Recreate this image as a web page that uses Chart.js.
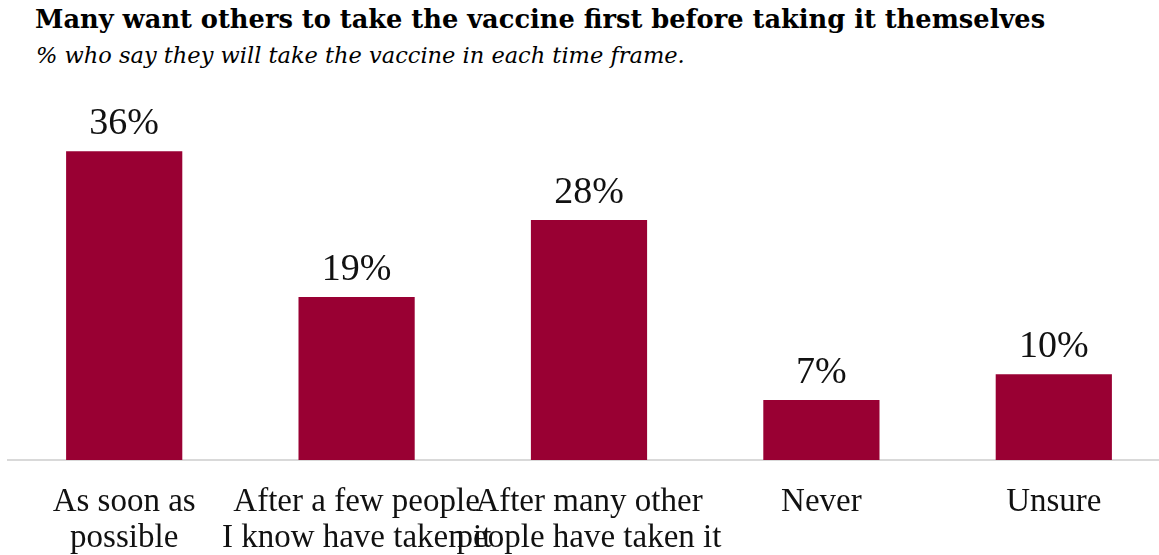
<!DOCTYPE html>
<html>
<head>
<meta charset="utf-8">
<script src="https://cdn.jsdelivr.net/npm/chart.js@4.4.1/dist/chart.umd.min.js"></script>
<style>
  html, body { margin: 0; padding: 0; background: #fff; overflow: hidden; width: 1159px; height: 555px; }
  #title { position: absolute; left: 35px; top: 4px; font-family: "DejaVu Serif", serif; font-weight: bold; font-size: 25.7px; color: #000; white-space: nowrap; }
  #subtitle { position: absolute; left: 36px; top: 42px; font-family: "DejaVu Serif", serif; font-style: italic; font-size: 22.5px; color: #000; white-space: nowrap; }
  #wrap { position: absolute; left: 0; top: 80px; width: 1170px; height: 475px; }
</style>
</head>
<body>
<div id="title">Many want others to take the vaccine first before taking it themselves</div>
<div id="subtitle">% who say they will take the vaccine in each time frame.</div>
<div id="wrap"><canvas id="c" width="1170" height="475"></canvas></div>
<script>
const categories = [
  ["As soon as", "possible"],
  ["After a few people", "I know have taken it"],
  ["After many other", "people have taken it"],
  ["Never"],
  ["Unsure"]
];
const shares = [36, 19, 28, 7, 10];
const barColor = "#990033";

// Percent labels above each bar
const valueLabels = {
  id: "valueLabels",
  afterDatasetsDraw(chart) {
    const ctx = chart.ctx;
    const meta = chart.getDatasetMeta(0);
    ctx.save();
    ctx.font = "38px 'Liberation Serif', serif";
    ctx.fillStyle = "#111";
    ctx.textAlign = "center";
    ctx.textBaseline = "alphabetic";
    meta.data.forEach((bar, i) => {
      ctx.fillText(shares[i] + "%", bar.x, bar.y - 17);
    });
    ctx.restore();
  }
};

new Chart(document.getElementById("c"), {
  type: "bar",
  data: {
    labels: categories,
    datasets: [{
      data: shares,
      backgroundColor: barColor,
      borderWidth: 0,
      categoryPercentage: 1,
      barPercentage: 0.5
    }]
  },
  options: {
    responsive: false,
    animation: false,
    layout: { padding: { left: 8, right: 0, top: 37, bottom: 0 } },
    plugins: {
      legend: { display: false },
      tooltip: { enabled: false }
    },
    scales: {
      x: {
        grid: { display: false, drawTicks: false },
        border: { display: true, color: "#d9d9d9", width: 2 },
        ticks: {
          color: "#111",
          maxRotation: 0,
          autoSkip: false,
          padding: 24,
          font: { family: "'Liberation Serif', serif", size: 33, lineHeight: 1.09 }
        },
        afterFit(scale) { scale.height = 95; }
      },
      y: {
        display: false,
        min: 0,
        max: 40
      }
    }
  },
  plugins: [valueLabels]
});
</script>
</body>
</html>
